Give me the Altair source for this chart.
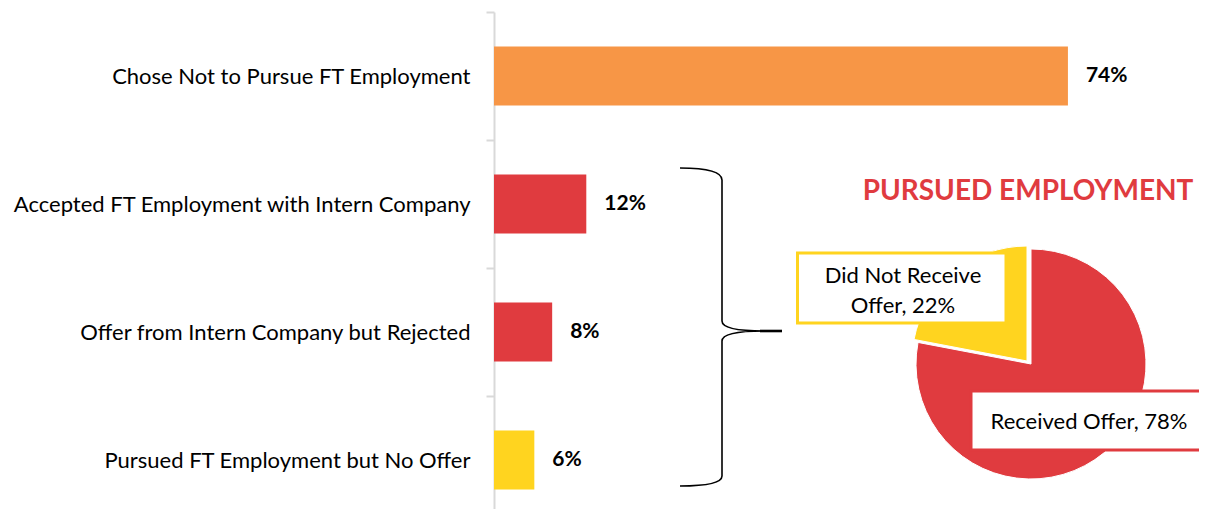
import altair as alt
import pandas as pd

# ---------------- data ----------------
categories = [
    "Chose Not to Pursue FT Employment",
    "Accepted FT Employment with Intern Company",
    "Offer from Intern Company but Rejected",
    "Pursued FT Employment but No Offer",
]
bar_values = [74.0, 11.9, 7.5, 5.2]
bar_labels = ["74%", "12%", "8%", "6%"]
bar_colors = ["#F79646", "#E03B3F", "#E03B3F", "#FFD41F"]

pie_names = ["Received Offer", "Did Not Receive Offer"]
pie_values = [78, 22]
pie_colors = ["#E03B3F", "#FFD41F"]

pie_title = "PURSUED EMPLOYMENT"

# ---------------- layout ----------------
FONT = "Lato"
W, H = 705, 497
OX, OY = 494, 12          # page position of plot origin


def px(x):
    return x - OX


def py(y):
    return y - OY


bars_df = pd.DataFrame({"cat": categories, "value": bar_values, "label": bar_labels})
pie_df = pd.DataFrame({"name": pie_names, "share": pie_values, "ord": list(range(len(pie_names)))})

xscale = alt.Scale(domain=[0, 90.9], nice=False, zero=True)
yscale = alt.Scale(domain=categories, range=[0, 512], paddingInner=0, paddingOuter=0)
yaxis = alt.Axis(
    domainColor="#D9D9D9",
    domainWidth=2,
    tickColor="#D9D9D9",
    tickWidth=2,
    tickSize=8,
    tickBand="extent",
    labelPadding=16,
    labelFont=FONT,
    labelFontSize=22,
    labelColor="#000000",
    labelLimit=700,
    grid=False,
    title=None,
)

base = alt.Chart(bars_df)
bars = base.mark_bar(height={"band": 0.46}).encode(
    x=alt.X("value:Q", scale=xscale, axis=None),
    y=alt.Y("cat:N", scale=yscale, sort=categories, axis=yaxis),
    color=alt.Color("cat:N", scale=alt.Scale(domain=categories, range=bar_colors), legend=None),
)
bar_text = base.mark_text(
    align="left", baseline="middle", dx=18, font=FONT, fontSize=21, fontWeight="bold", color="#000000"
).encode(
    x=alt.X("value:Q", scale=xscale, axis=None),
    y=alt.Y("cat:N", scale=yscale, sort=categories, axis=yaxis),
    text="label:N",
)

# ---------------- brace (decoration, drawn as one custom symbol) ----------------
BCX, BCY, BS = 731, 327, 160.0   # page centre of brace box, px per shape unit


def u(x, y):
    return f"{(x - BCX) / BS:.5f},{(y - BCY) / BS:.5f}"


brace_path = (
    f"M{u(680,168)} Q{u(722,168)} {u(722,180)} L{u(722,321)} Q{u(722,331)} {u(764,331)} "
    f"L{u(782,331)} M{u(764,331)} Q{u(722,331)} {u(722,341)} L{u(722,476)} "
    f"Q{u(722,486)} {u(680,486)}"
)
tip_path = f"M{u(760,331)} L{u(782,331)}"
one = alt.Chart(pd.DataFrame({"k": [0]}))
brace = one.mark_point(
    shape=brace_path, size=(2 * BS) ** 2, filled=False, stroke="#000000", strokeWidth=1.6, opacity=1
).encode(x=alt.value(px(BCX)), y=alt.value(py(BCY)))
brace_tip = one.mark_point(
    shape=tip_path, size=(2 * BS) ** 2, filled=False, stroke="#000000", strokeWidth=2.6, opacity=1
).encode(x=alt.value(px(BCX)), y=alt.value(py(BCY)))

# ---------------- pie ----------------
R = 115
pie_base = alt.Chart(pie_df).transform_window(
    cum="sum(share)", sort=[alt.SortField("ord")]
).transform_calculate(start="datum.cum - datum.share")
theta_scale = alt.Scale(domain=[0, sum(pie_values)])
pie_color = alt.Color("name:N", scale=alt.Scale(domain=pie_names, range=pie_colors), legend=None)

pie_red = pie_base.transform_filter(alt.datum.ord == 0).mark_arc(
    radius=R, stroke="white", strokeWidth=1
).encode(
    theta=alt.Theta("start:Q", scale=theta_scale),
    theta2="cum:Q",
    color=pie_color,
    x=alt.value(px(1031)),
    y=alt.value(py(364)),
)
pie_yel = pie_base.transform_filter(alt.datum.ord == 1).mark_arc(
    radius=R, stroke="white", strokeWidth=1
).encode(
    theta=alt.Theta("start:Q", scale=theta_scale),
    theta2="cum:Q",
    color=pie_color,
    x=alt.value(px(1027)),
    y=alt.value(py(361)),
)

# ---------------- label boxes & texts ----------------
box1 = one.mark_rect(fill="white", stroke=pie_colors[1], strokeWidth=3).encode(
    x=alt.value(px(797.5)), x2=alt.value(px(1006)), y=alt.value(py(253)), y2=alt.value(py(323))
)
box2 = one.mark_rect(fill="white", stroke=pie_colors[0], strokeWidth=3).encode(
    x=alt.value(px(971)), x2=alt.value(px(1230)), y=alt.value(py(391)), y2=alt.value(py(450))
)
txt1 = one.mark_text(
    font=FONT, fontSize=22, color="#000000", align="center", baseline="middle", lineHeight=30
).encode(
    x=alt.value(px(903)), y=alt.value(py(276)),
    text=alt.value(["Did Not Receive", f"Offer, {pie_values[1]}%"]),
)
txt2 = one.mark_text(
    font=FONT, fontSize=22, color="#000000", align="center", baseline="middle"
).encode(
    x=alt.value(px(1089)), y=alt.value(py(422)),
    text=alt.value(f"{pie_names[0]}, {pie_values[0]}%"),
)
title = one.mark_text(
    font=FONT, fontSize=28, fontWeight="bold", color=pie_colors[0], align="center", baseline="middle"
).encode(
    x=alt.value(px(1028)), y=alt.value(py(192)),
    text=alt.value(pie_title),
)

chart = alt.layer(
    bars, bar_text, brace, brace_tip, pie_red, pie_yel, box1, box2, txt1, txt2, title
).resolve_scale(
    color="independent"
).properties(
    width=W,
    height=H,
    autosize=alt.AutoSizeParams(type="none"),
    padding={"left": 486, "top": 4, "right": 0, "bottom": 0},
).configure(
    background="white", view=alt.ViewConfig(stroke=None)
)

chart.save("out.html", embed_options={"renderer": "svg", "actions": False})
